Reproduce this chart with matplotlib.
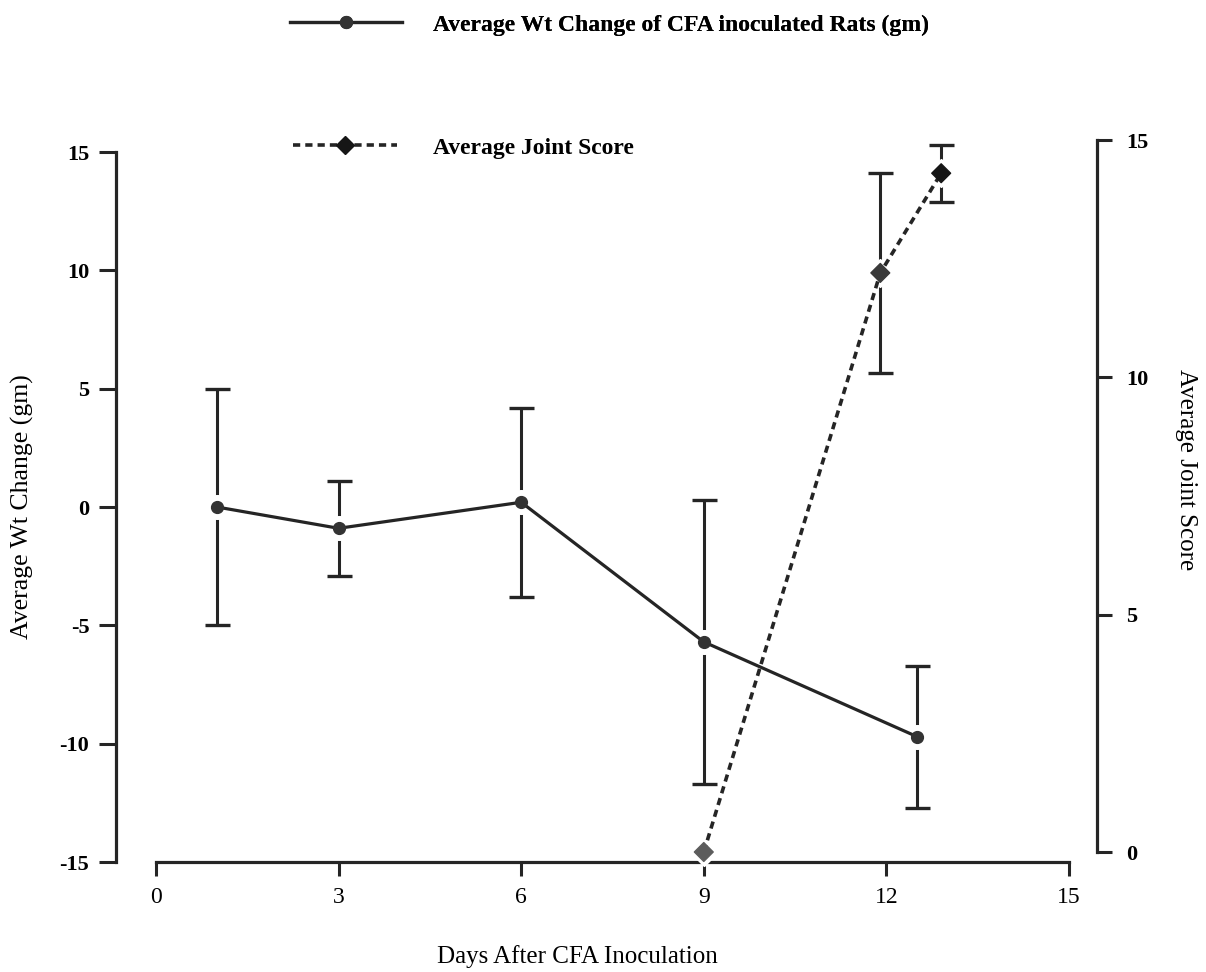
import numpy as np
import matplotlib
matplotlib.use("Agg")
import matplotlib.pyplot as plt
from matplotlib.lines import Line2D

plt.rcParams['font.family'] = ['Liberation Serif', 'DejaVu Serif']
plt.rcParams['axes.unicode_minus'] = False

# weight change of CFA inoculated rats (gm), mean and error
days_wt = [1, 3, 6, 9, 12.5]
wt_change = [0.0, -0.9, 0.2, -5.7, -9.7]
wt_err = [5.0, 2.0, 4.0, 6.0, 3.0]

# average joint score, mean and error (no bar on day 9)
days_joint = [9, 11.9, 12.9]
joint_score = [0.0, 12.2, 14.3]
joint_err = [np.nan, 2.1, 0.6]

x_ticks = [0, 3, 6, 9, 12, 15]
wt_ticks = [-15, -10, -5, 0, 5, 10, 15]
joint_ticks = [0, 5, 10, 15]

ink = '#252525'
joint_marker_colors = ['#5c5c5c', '#3a3a3a', '#161616']

W, H = 1206, 972
fig = plt.figure(figsize=(W / 100, H / 100), dpi=100)

# main axes: weight change
ax = fig.add_axes([156 / W, 110 / H, 913 / W, 710 / H])
ax.set_xlim(0, 15)
ax.set_ylim(-15, 15)
for s in ['top', 'right']:
    ax.spines[s].set_visible(False)
ax.spines['left'].set_position(('outward', 29))
for s in ['left', 'bottom']:
    ax.spines[s].set_linewidth(2.3)
    ax.spines[s].set_color(ink)
ax.set_xticks(x_ticks)
ax.set_yticks(wt_ticks)
ax.tick_params(axis='y', direction='out', length=12, width=2.2, color=ink, pad=7,
               labelsize=16)
ax.tick_params(axis='x', direction='out', length=10, width=2.2, color=ink, pad=8,
               labelsize=17)
for lab in ax.get_yticklabels():
    lab.set_fontweight('bold')
ax.patch.set_alpha(0)

ax.errorbar(days_wt, wt_change, yerr=wt_err, fmt='none', ecolor=ink,
            elinewidth=2.2, capsize=9, capthick=2.4, zorder=1)
ax.plot(days_wt, wt_change, ls='none', marker='o', ms=17, color='white', zorder=2)
ax.plot(days_wt, wt_change, color=ink, lw=2.3, marker='o', ms=8.5,
        mfc='#333333', mec='#333333', zorder=3)

# second axes on the right: joint score
ax2 = fig.add_axes([156 / W, 120 / H, 913 / W, 712 / H])
ax2.patch.set_alpha(0)
ax2.set_xlim(0, 15)
ax2.set_ylim(0, 15)
for s in ['top', 'left', 'bottom']:
    ax2.spines[s].set_visible(False)
ax2.spines['right'].set_position(('outward', 20))
ax2.spines['right'].set_linewidth(2.3)
ax2.spines['right'].set_color(ink)
ax2.xaxis.set_visible(False)
ax2.yaxis.tick_right()
ax2.set_yticks(joint_ticks)
ax2.tick_params(axis='y', direction='out', length=11, width=2.2, color=ink, pad=10,
                labelsize=16)
for lab in ax2.get_yticklabels():
    lab.set_fontweight('bold')

ax2.errorbar(days_joint, joint_score, yerr=joint_err, fmt='none', ecolor=ink,
             elinewidth=2.2, capsize=9, capthick=2.4, zorder=1)
ax2.plot(days_joint, joint_score, ls='none', marker='D', ms=14, color='white',
         zorder=2, clip_on=False)
ax2.plot(days_joint, joint_score, color=ink, lw=2.6, dashes=(2, 1.4), zorder=3,
         clip_on=False)
ax2.scatter(days_joint, joint_score, marker='D', s=92, c=joint_marker_colors,
            zorder=4, clip_on=False)

# axis titles
fig.text(22 / W, 1 - 507 / H, 'Average Wt Change (gm)', rotation=90,
         ha='center', va='center', fontsize=18.5)
fig.text(1186 / W, 1 - 470 / H, 'Average Joint Score', rotation=270,
         ha='center', va='center', fontsize=18)
fig.text(577 / W, 1 - 957 / H, 'Days After CFA Inoculation',
         ha='center', va='center', fontsize=18)

# legend entries, one per series
h_wt = Line2D([], [], color=ink, lw=2.3, marker='o', ms=8.5, mfc='#333333', mec='#333333')
h_joint = Line2D([], [], color=ink, lw=2.6, dashes=(2, 1.4), marker='D', ms=9.5,
                 mfc='#161616', mec='#161616')
leg1 = fig.legend(handles=[h_wt], labels=['Average Wt Change of CFA inoculated Rats (gm)'],
                  loc='center left', bbox_to_anchor=(290 / W, 1 - 25 / H),
                  frameon=False, borderpad=0, borderaxespad=0, handlelength=4.75,
                  handletextpad=1.3, prop={'size': 17, 'weight': 'bold'})
leg2 = fig.legend(handles=[h_joint], labels=['Average Joint Score'],
                  loc='center left', bbox_to_anchor=(293 / W, 1 - 148 / H),
                  frameon=False, borderpad=0, borderaxespad=0, handlelength=4.4,
                  handletextpad=1.55, prop={'size': 17, 'weight': 'bold'})
fig.add_artist(leg1)

fig.savefig('out.png', dpi=100)
